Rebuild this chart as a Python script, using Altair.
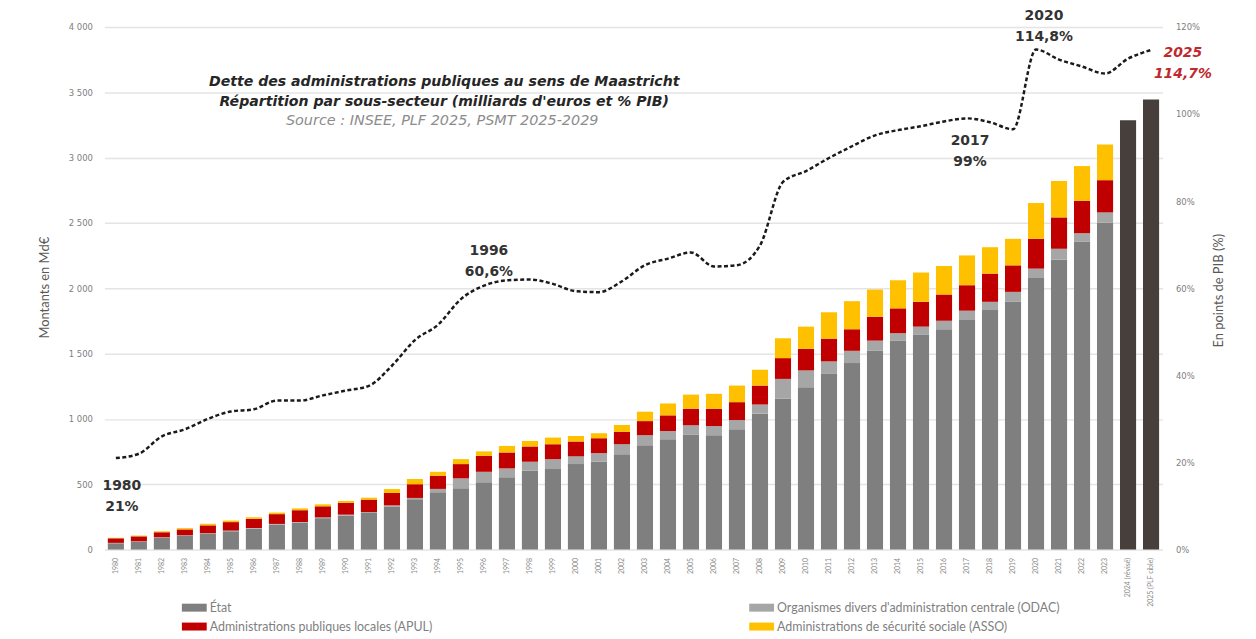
import altair as alt
import pandas as pd

years = [str(y) for y in range(1980, 2024)] + ["2024 (révisé)", "2025 (PLF cible)"]
stack_years = years[:44]
proj_years = years[44:]

etat = [48, 60, 90, 105, 120, 140, 160, 190, 205, 240,
        260, 280, 330, 385, 439, 469, 515, 553, 603, 616,
        654, 672, 730, 799, 844, 880, 875, 920, 1040, 1154,
        1242, 1344, 1427, 1521, 1597, 1643, 1686, 1757, 1833, 1896,
        2078, 2218, 2357, 2504]
odac = [3, 3, 4, 4, 5, 5, 5, 6, 6, 6,
        7, 7, 8, 10, 25, 76, 80, 68, 69, 76,
        59, 66, 76, 76, 63, 71, 70, 71, 70, 152,
        129, 96, 94, 78, 59, 63, 65, 71, 63, 76,
        72, 84, 64, 76]
apul = [35, 38, 38, 45, 60, 65, 70, 75, 90, 85,
        90, 95, 95, 105, 101, 109, 122, 122, 117, 114,
        114, 114, 94, 108, 120, 127, 133, 137, 145, 159,
        165, 174, 165, 183, 190, 190, 201, 195, 216, 203,
        228, 240, 248, 247]
asso = [4, 6, 8, 10, 12, 12, 12, 12, 14, 15,
        15, 15, 30, 40, 30, 38, 34, 50, 42, 51,
        42, 38, 53, 72, 91, 108, 114, 127, 121, 152,
        170, 202, 215, 208, 215, 224, 218, 228, 202, 203,
        274, 279, 266, 273]
proj_total = [3285, 3445]

pct_pib = [21.0, 22.0, 26.0, 27.6, 30.0, 31.7, 32.2, 34.2, 34.2, 35.4,
           36.5, 37.6, 42.2, 48.1, 51.6, 57.5, 60.6, 61.8, 62.0, 61.0,
           59.3, 59.1, 61.6, 65.3, 66.8, 68.2, 65.0, 65.3, 69.8, 84.4,
           86.9, 89.9, 92.6, 95.1, 96.3, 97.2, 98.3, 99.0, 98.1, 96.5,
           114.8, 112.5, 110.9, 109.3, 112.7, 114.7]

sectors = ["État", "Organismes divers d'administration centrale  (ODAC)",
           "Administrations publiques locales (APUL)",
           "Administrations de sécurité sociale (ASSO)"]
line_name = "En points de PIB"
sector_colors = ["#7f7f7f", "#a6a6a6", "#c00000", "#ffc000"]
line_color = "#1a1a1a"
# legend is filled column by column: État, APUL, line | ODAC, ASSO
legend_domain = [sectors[0], sectors[2], line_name, sectors[1], sectors[3]]
legend_range = [sector_colors[0], sector_colors[2], line_color, sector_colors[1], sector_colors[3]]

rows = []
for i, yr in enumerate(stack_years):
    for k, (name, arr) in enumerate(zip(sectors, [etat, odac, apul, asso])):
        rows.append({"year": yr, "sector": name, "value": arr[i], "ord": k})
df_stack = pd.DataFrame(rows)
df_proj = pd.DataFrame({"year": proj_years, "total": proj_total})
df_pct = pd.DataFrame({"year": years, "pct": pct_pib, "series": line_name})

FONT = "Lato"
AX_FONT = "DejaVu Sans"
xscale = alt.Scale(domain=years, paddingInner=0.3, paddingOuter=0.15)
x_axis = alt.Axis(title=None, labelAngle=-90, labelFontSize=7, labelColor="#8a8a8a",
                  labelPadding=8, ticks=False, domain=False, labelFont=FONT, grid=False)
x_enc = alt.X("year:N", scale=xscale, sort=years, axis=x_axis)
left_scale = alt.Scale(domain=[0, 4000], nice=False)
right_scale = alt.Scale(domain=[0, 120], nice=False)
color_scale = alt.Scale(domain=legend_domain, range=legend_range)

bars = alt.Chart(df_stack).mark_bar().encode(
    x=x_enc,
    y=alt.Y("value:Q", stack="zero", scale=left_scale,
            axis=alt.Axis(values=list(range(0, 4001, 500)),
                          labelExpr="replace(format(datum.value, ','), ',', ' ')",
                          labelFontSize=8.5, labelColor="#808080", labelFont=AX_FONT, labelPadding=12,
                          ticks=False, domain=False, grid=True, gridColor="#e4e4e4", gridWidth=1.5,
                          title="Montants en Md€", titleFont=FONT, titleFontSize=13,
                          titleFontWeight="normal", titleColor="#595959", titleAngle=270,
                          titleX=-60, titleY=262, titleAlign="center", titleBaseline="middle")),
    color=alt.Color("sector:N", scale=color_scale,
                    legend=alt.Legend(title=None, orient="none", legendX=78, legendY=572,
                                      columns=2, columnPadding=318, rowPadding=-2,
                                      symbolType="M-1,-0.32H1V0.32H-1Z", symbolSize=625,
                                      symbolStrokeWidth=0, labelFont=FONT, labelFontSize=12.5,
                                      labelColor="#7f7f7f", labelLimit=500, labelOffset=3)),
    order=alt.Order("ord:Q"),
)

proj = alt.Chart(df_proj).mark_bar(color="#463f3c").encode(
    x=x_enc,
    y=alt.Y("total:Q", scale=left_scale, axis=None),
)

line = alt.Chart(df_pct).mark_line(strokeDash=[4, 2.5], strokeWidth=2.5, interpolate="monotone").encode(
    x=x_enc,
    y=alt.Y("pct:Q", scale=right_scale,
            axis=alt.Axis(orient="right", values=[0, 20, 40, 60, 80, 100, 120],
                          labelExpr="datum.value + '%'", labelFontSize=8.5, labelColor="#808080",
                          labelFont=AX_FONT, labelPadding=13, ticks=False, domain=False, grid=False,
                          title="En points de PIB (%)", titleFont=FONT, titleFontSize=13,
                          titleFontWeight="normal", titleColor="#595959", titleAngle=270,
                          titleX=56, titleY=265, titleAlign="center", titleBaseline="middle")),
    color=alt.Color("series:N", scale=color_scale),
)

ann_years = ["1980", "1996", "2017", "2020"]
ann_text = ["1980\n21%", "1996\n60,6%", "2017\n99%", "2020\n114,8%"]
ann_dx = [6, 5, 3, 8]
ann_dy = [28, -35, 23, -34]

layers = [bars, proj, line]
for yr, txt, dx, dy in zip(ann_years, ann_text, ann_dx, ann_dy):
    d = df_pct[df_pct["year"] == yr].assign(label=txt)
    layers.append(alt.Chart(d).mark_text(lineBreak="\n", dx=dx, dy=dy, font="DejaVu Sans",
                                         fontSize=14, fontWeight="bold", color="#333333",
                                         lineHeight=21, align="center", baseline="middle").encode(
        x=x_enc, y=alt.Y("pct:Q", scale=right_scale, axis=None), text="label:N"))

d25 = df_pct[df_pct["year"] == years[-1]].assign(label="2025\n114,7%")
layers.append(alt.Chart(d25).mark_text(lineBreak="\n", dx=32, dy=3, font="DejaVu Sans",
                                       fontSize=14, fontWeight="bold", fontStyle="italic",
                                       color="#c0282d", lineHeight=21, align="center",
                                       baseline="middle").encode(
    x=x_enc, y=alt.Y("pct:Q", scale=right_scale, axis=None), text="label:N"))

title_lines = ["Dette des administrations publiques au sens de Maastricht",
               "Répartition par sous-secteur (milliards d'euros et % PIB)"]
source_line = ["Source : INSEE, PLF 2025, PSMT 2025-2029"]
t1 = alt.Chart(pd.DataFrame({"t": [title_lines[0]]})).mark_text(
    font="DejaVu Sans", fontSize=14.2, fontWeight="bold", fontStyle="italic", color="#262626",
    align="center", baseline="middle").encode(x=alt.value(342), y=alt.value(55), text="t:N")
t2 = alt.Chart(pd.DataFrame({"t": [title_lines[1]]})).mark_text(
    font="DejaVu Sans", fontSize=14.2, fontWeight="bold", fontStyle="italic", color="#262626",
    align="center", baseline="middle").encode(x=alt.value(342), y=alt.value(76), text="t:N")
t3 = alt.Chart(pd.DataFrame({"t": source_line})).mark_text(
    font="DejaVu Sans", fontSize=14.5, fontStyle="italic", color="#8c8c8c",
    align="center", baseline="middle").encode(x=alt.value(340), y=alt.value(95), text="t:N")
layers += [t1, t2, t3]

chart = alt.layer(*layers).resolve_scale(y="independent").properties(
    width=1065, height=526,
    padding={"left": 97, "top": 17, "right": 86, "bottom": 88},
    autosize=alt.AutoSizeParams(type="none"),
).configure_view(stroke=None)

chart.save("out.html", embed_options={"renderer": "svg", "actions": False})
